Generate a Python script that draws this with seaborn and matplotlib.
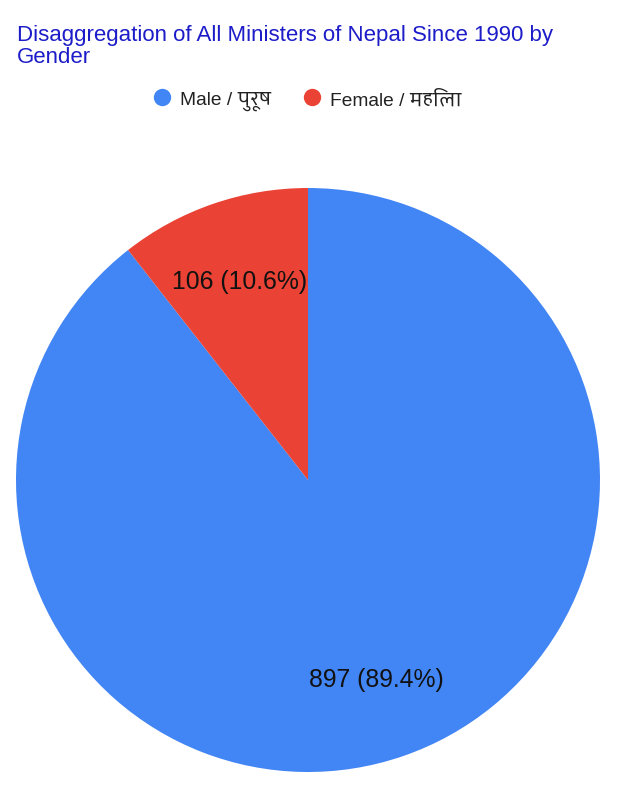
import matplotlib
matplotlib.use("Agg")
import matplotlib.pyplot as plt
from matplotlib.lines import Line2D
import seaborn as sns

# ministers of Nepal since 1990 by gender
genders = ["Male / पुरूष", "Female / महिला"]
counts = [897, 106]
colors = ["#4285f4", "#ea4335"]
title_lines = ["Disaggregation of All Ministers of Nepal Since 1990 by", "Gender"]

sns.set_theme(style="white")
# latin text in an Arial-like face, devanagari falls through to Palanquin
plt.rcParams["font.family"] = ["Liberation Sans", "Palanquin",
                               "Noto Sans Devanagari", "DejaVu Sans"]

total = sum(counts)


def label(pct):
    return f"{round(pct * total / 100)} ({pct:.1f}%)"


fig = plt.figure(figsize=(6.2, 8.12), dpi=100)
ax = fig.add_axes([16 / 620, 39 / 812, 584 / 620, 584 / 812])

wedges, texts, autotexts = ax.pie(
    counts,
    colors=colors,
    startangle=90,
    counterclock=False,
    autopct=label,
    pctdistance=0.72,
    wedgeprops=dict(linewidth=0),
    textprops=dict(fontsize=17.8, color="#111111"),
)
ax.set_aspect("equal")
ax.set_xlim(-1, 1)
ax.set_ylim(-1, 1)
ax.axis("off")

# title, one text per line so the baselines sit where google put them
for i, line in enumerate(title_lines):
    fig.text(17 / 620, 1 - (41 + 22 * i) / 812, line, ha="left", va="baseline",
             fontsize=16, color="#1c1cc8")

handles = [Line2D([], [], marker="o", linestyle="none", markersize=12.5,
                  markerfacecolor=c, markeredgewidth=0) for c in colors]
fig.legend(handles, genders, loc="center", bbox_to_anchor=(307 / 620, 1 - 101 / 812),
           ncol=2, frameon=False, fontsize=13.8, handletextpad=0.45,
           columnspacing=1.6, handlelength=1.0, labelcolor="#222222")

fig.savefig("out.png", dpi=100)
